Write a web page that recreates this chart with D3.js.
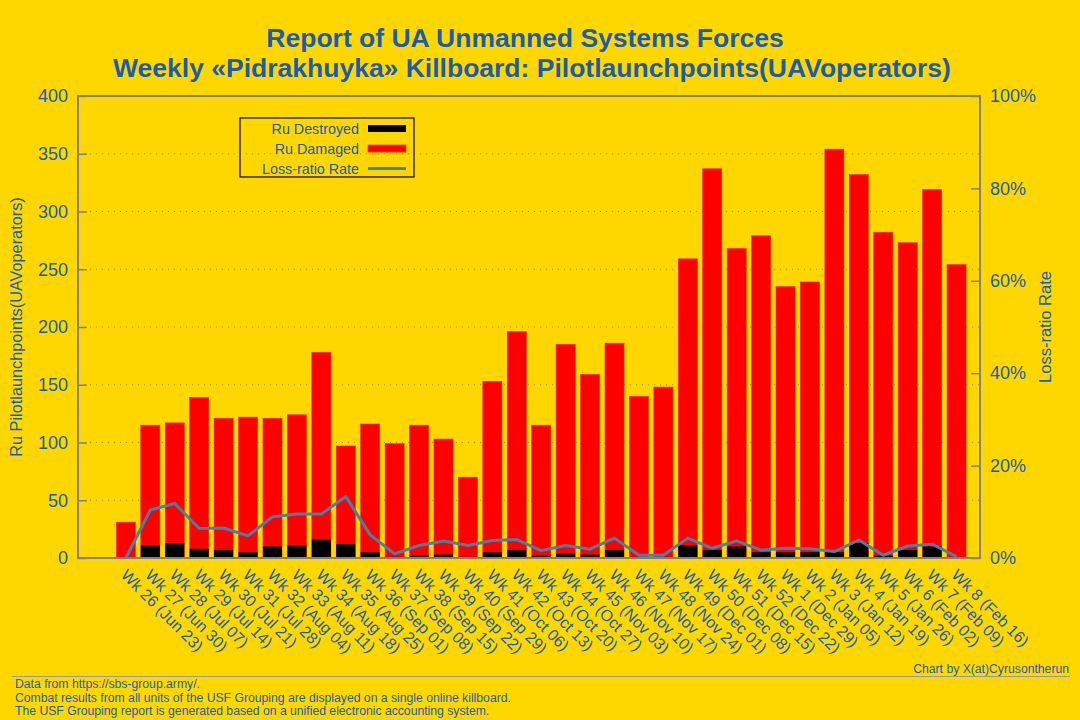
<!DOCTYPE html>
<html>
<head>
<meta charset="utf-8">
<script src="https://cdn.jsdelivr.net/npm/d3@7"></script>
<style>
  body { margin: 0; background: #ffd700; }
  text { font-family: "Liberation Sans", Arial, sans-serif; }
</style>
</head>
<body>
<div id="chart"></div>
<script>
var w = 1080,
    h = 720;

// week labels
var weeks = ["Wk 26 (Jun 23)", "Wk 27 (Jun 30)", "Wk 28 (Jul 07)", "Wk 29 (Jul 14)", "Wk 30 (Jul 21)",
             "Wk 31 (Jul 28)", "Wk 32 (Aug 04)", "Wk 33 (Aug 11)", "Wk 34 (Aug 18)", "Wk 35 (Aug 25)",
             "Wk 36 (Sep 01)", "Wk 37 (Sep 08)", "Wk 38 (Sep 15)", "Wk 39 (Sep 22)", "Wk 40 (Sep 29)",
             "Wk 41 (Oct 06)", "Wk 42 (Oct 13)", "Wk 43 (Oct 20)", "Wk 44 (Oct 27)", "Wk 45 (Nov 03)",
             "Wk 46 (Nov 10)", "Wk 47 (Nov 17)", "Wk 48 (Nov 24)", "Wk 49 (Dec 01)", "Wk 50 (Dec 08)",
             "Wk 51 (Dec 15)", "Wk 52 (Dec 22)", "Wk 1 (Dec 29)", "Wk 2 (Jan 05)", "Wk 3 (Jan 12)",
             "Wk 4 (Jan 19)", "Wk 5 (Jan 26)", "Wk 6 (Feb 02)", "Wk 7 (Feb 09)", "Wk 8 (Feb 16)"];

var damaged = [31, 115, 117, 139, 121, 122, 121, 124, 178, 97,
               116, 99, 115, 103, 70, 153, 196, 115, 185, 159,
               186, 140, 148, 259, 337, 268, 279, 235, 239, 354,
               332, 282, 273, 319, 254];

var destroyed = [0, 11, 13, 8, 7, 5, 10, 11, 16, 12,
                 5, 1, 2, 3, 1, 5, 7, 2, 4, 3,
                 7, 1, 1, 11, 7, 10, 5, 5, 5, 5,
                 13, 2, 7, 10, 0];

// loss-ratio rate, percent
var rate = [0, 10.4, 11.8, 6.4, 6.5, 4.8, 8.9, 9.5, 9.5, 13.3,
            5.0, 0.9, 2.7, 3.7, 2.7, 3.8, 4.0, 1.6, 2.7, 1.9,
            4.3, 0.6, 0.6, 4.3, 2.1, 3.7, 1.7, 2.1, 2.0, 1.4,
            3.9, 0.6, 2.6, 3.0, 0.3];

var leftTicks = [0, 50, 100, 150, 200, 250, 300, 350, 400];
var rightTicks = [0, 20, 40, 60, 80, 100];

var textColor = "#1a5cad",
    lineColor = "#4a7fa8",
    frameColor = "#808080";

var pLeft = 78, pRight = 980, pTop = 96, pBottom = 558;

var svg = d3.select("#chart")
            .append("svg")
            .attr("width", w)
            .attr("height", h);

svg.append("rect")
   .attr("width", w)
   .attr("height", h)
   .attr("fill", "#ffd700");

var x = d3.scaleLinear().domain([-1.96, 34.96]).range([pLeft, pRight]);
var y = d3.scaleLinear().domain([0, 400]).range([pBottom, pTop]);
var y2 = d3.scaleLinear().domain([0, 100]).range([pBottom, pTop]);

var barW = x(0.78) - x(0);

// --- grid ---
svg.append("g")
   .selectAll("line")
   .data(leftTicks.filter(function(d) { return d > 0 && d < 400; }))
   .enter().append("line")
   .attr("x1", pLeft)
   .attr("x2", pRight)
   .attr("y1", function(d) { return y(d); })
   .attr("y2", function(d) { return y(d); })
   .attr("stroke", "#a08c30")
   .attr("stroke-width", 1)
   .attr("stroke-dasharray", "1,5");

// --- bars ---
svg.append("g")
   .selectAll("rect")
   .data(damaged)
   .enter().append("rect")
   .attr("x", function(d, i) { return x(i) - barW / 2; })
   .attr("y", function(d) { return y(d); })
   .attr("width", barW)
   .attr("height", function(d) { return pBottom - y(d); })
   .attr("fill", "#ff0000")
   .attr("stroke", "#f02a00")
   .attr("stroke-width", 0.6);

svg.append("g")
   .selectAll("rect")
   .data(destroyed)
   .enter().append("rect")
   .attr("x", function(d, i) { return x(i) - barW / 2; })
   .attr("y", function(d) { return y(d); })
   .attr("width", barW)
   .attr("height", function(d) { return pBottom - y(d); })
   .attr("fill", "#000000");

// --- loss-ratio line ---
var line = d3.line()
             .x(function(d, i) { return x(i); })
             .y(function(d) { return y2(d); });

svg.append("path")
   .datum(rate)
   .attr("d", line)
   .attr("fill", "none")
   .attr("stroke", lineColor)
   .attr("stroke-width", 3)
   .attr("stroke-linejoin", "round");

// --- frame and axes ---
svg.append("rect")
   .attr("x", pLeft)
   .attr("y", pTop)
   .attr("width", pRight - pLeft)
   .attr("height", pBottom - pTop)
   .attr("fill", "none")
   .attr("stroke", frameColor)
   .attr("stroke-width", 2);

var yAxis = d3.axisLeft(y)
              .tickValues(leftTicks)
              .tickSizeInner(-9)
              .tickSizeOuter(0)
              .tickPadding(10);

var gy = svg.append("g")
            .attr("transform", "translate(" + pLeft + ",0)")
            .call(yAxis);

var y2Axis = d3.axisRight(y2)
               .tickValues(rightTicks)
               .tickFormat(function(d) { return d + "%"; })
               .tickSizeInner(-9)
               .tickSizeOuter(0)
               .tickPadding(10);

var gy2 = svg.append("g")
             .attr("transform", "translate(" + pRight + ",0)")
             .call(y2Axis);

[gy, gy2].forEach(function(g) {
  g.select(".domain").remove();
  g.selectAll(".tick line").attr("stroke", frameColor).attr("stroke-width", 1.5);
  g.selectAll(".tick text")
   .attr("fill", textColor)
   .attr("font-size", "18px")
   .attr("font-family", "Liberation Sans, Arial, sans-serif");
});

// x labels
svg.append("g")
   .selectAll("text")
   .data(weeks)
   .enter().append("text")
   .text(function(d) { return d; })
   .attr("transform", function(d, i) {
     return "translate(" + (x(i) - 6) + "," + (pBottom + 18) + ") rotate(45)";
   })
   .attr("fill", textColor)
   .attr("font-size", "16px");

// axis titles
svg.append("text")
   .text("Ru Pilotlaunchpoints(UAVoperators)")
   .attr("transform", "translate(22," + ((pTop + pBottom) / 2) + ") rotate(-90)")
   .attr("text-anchor", "middle")
   .attr("fill", textColor)
   .attr("font-size", "16.3px");

svg.append("text")
   .text("Loss-ratio Rate")
   .attr("transform", "translate(1051," + ((pTop + pBottom) / 2) + ") rotate(-90)")
   .attr("text-anchor", "middle")
   .attr("fill", textColor)
   .attr("font-size", "16.5px");

// --- title ---
svg.append("text")
   .text("Report of UA Unmanned Systems Forces")
   .attr("x", 525)
   .attr("y", 47)
   .attr("text-anchor", "middle")
   .attr("fill", textColor)
   .attr("font-size", "26.5px")
   .attr("font-weight", "bold");

svg.append("text")
   .text("Weekly «Pidrakhuyka» Killboard: Pilotlaunchpoints(UAVoperators)")
   .attr("x", 532)
   .attr("y", 77)
   .attr("text-anchor", "middle")
   .attr("fill", textColor)
   .attr("font-size", "26.5px")
   .attr("font-weight", "bold");

// --- legend ---
var legend = svg.append("g");

legend.append("rect")
      .attr("x", 240)
      .attr("y", 118)
      .attr("width", 174)
      .attr("height", 59)
      .attr("fill", "none")
      .attr("stroke", "#000")
      .attr("stroke-width", 1.2);

var legendItems = ["Ru Destroyed", "Ru Damaged", "Loss-ratio Rate"];
var legendColors = ["#000000", "#ff0000", lineColor];

legend.selectAll("text")
      .data(legendItems)
      .enter().append("text")
      .text(function(d) { return d; })
      .attr("x", 359)
      .attr("y", function(d, i) { return 134 + i * 20; })
      .attr("text-anchor", "end")
      .attr("fill", textColor)
      .attr("font-size", "14.3px");

legend.selectAll("rect.sw")
      .data(legendColors)
      .enter().append("rect")
      .attr("class", "sw")
      .attr("x", 368)
      .attr("y", function(d, i) { return i < 2 ? 125 + i * 20 : 127 + i * 20; })
      .attr("width", 38)
      .attr("height", function(d, i) { return i < 2 ? 7 : 3; })
      .attr("fill", function(d) { return d; })
      .attr("stroke", function(d, i) { return i === 1 ? "#f04000" : "none"; })
      .attr("stroke-width", 0.8);

// --- footer ---
svg.append("text")
   .text("Chart by X(at)Cyrusontherun")
   .attr("x", 1069)
   .attr("y", 673)
   .attr("text-anchor", "end")
   .attr("fill", textColor)
   .attr("font-size", "12.2px");

svg.append("line")
   .attr("x1", 12)
   .attr("x2", 1070)
   .attr("y1", 676.5)
   .attr("y2", 676.5)
   .attr("stroke", "#999")
   .attr("stroke-width", 1);

var footer = ["Data from https://sbs-group.army/.",
              "Combat results from all units of the USF Grouping are displayed on a single online killboard.",
              "The USF Grouping report is generated based on a unified electronic accounting system."];

svg.append("g")
   .selectAll("text")
   .data(footer)
   .enter().append("text")
   .text(function(d) { return d; })
   .attr("x", 15)
   .attr("y", function(d, i) { return 688 + i * 13.5; })
   .attr("fill", textColor)
   .attr("font-size", "12.2px");
</script>
</body>
</html>
